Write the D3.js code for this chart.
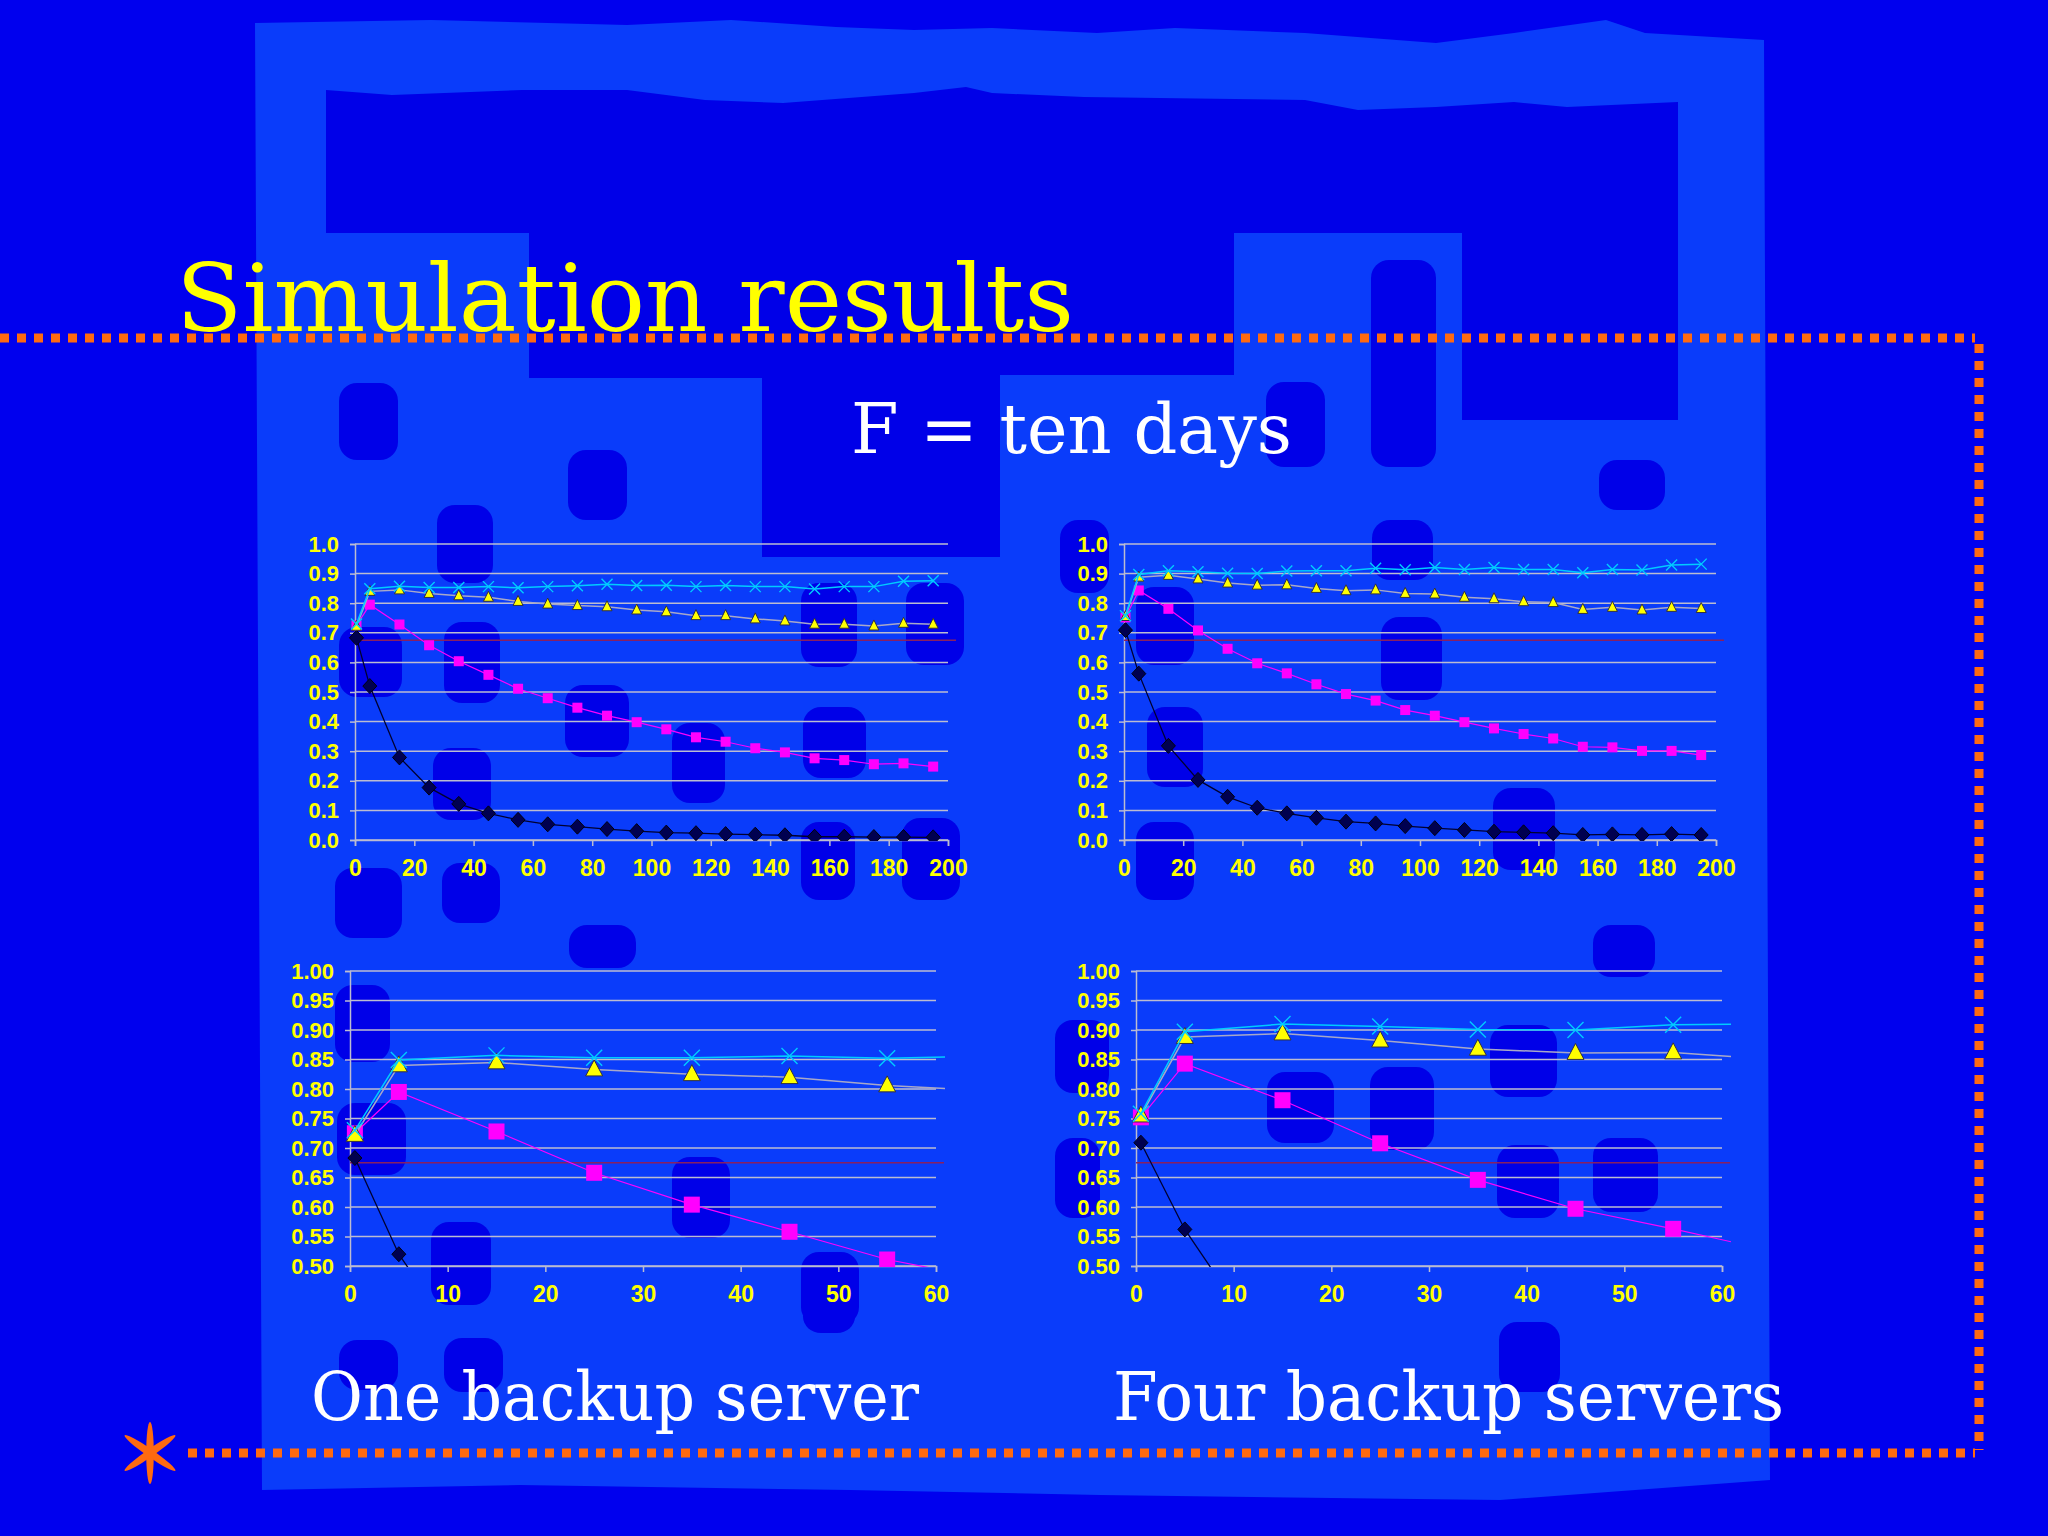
<!DOCTYPE html>
<html><head><meta charset="utf-8">
<script src="https://cdn.jsdelivr.net/npm/d3@7"></script>
<style>html,body{margin:0;padding:0;background:#0000ee;} svg{display:block}</style>
</head><body><svg id="c" width="2048" height="1536"></svg>
<script>
// ---------------- data ----------------
const xValues = [0.5,5,15,25,35,45,55,65,75,85,95,105,115,125,135,145,155,165,175,185,195];
const oneCross    = [0.730,0.849,0.857,0.853,0.853,0.856,0.852,0.856,0.859,0.864,0.860,0.861,0.856,0.860,0.856,0.856,0.848,0.856,0.856,0.874,0.876];
const oneTriangle = [0.722,0.840,0.845,0.833,0.825,0.820,0.806,0.797,0.792,0.788,0.777,0.771,0.758,0.758,0.747,0.740,0.729,0.729,0.723,0.732,0.729];
const oneSquare   = [0.725,0.795,0.728,0.658,0.604,0.558,0.511,0.479,0.447,0.420,0.398,0.374,0.347,0.332,0.310,0.296,0.276,0.270,0.256,0.259,0.248];
const oneDiamond  = [0.683,0.520,0.279,0.177,0.122,0.090,0.068,0.053,0.045,0.037,0.030,0.025,0.023,0.020,0.018,0.016,0.011,0.011,0.010,0.010,0.009];
const fourCross    = [0.758,0.897,0.910,0.906,0.901,0.900,0.909,0.910,0.910,0.918,0.913,0.921,0.914,0.921,0.914,0.914,0.903,0.914,0.912,0.929,0.932];
const fourTriangle = [0.755,0.888,0.894,0.882,0.868,0.861,0.862,0.850,0.842,0.845,0.833,0.831,0.820,0.815,0.805,0.802,0.779,0.786,0.777,0.786,0.782];
const fourSquare   = [0.752,0.843,0.781,0.708,0.646,0.597,0.563,0.526,0.493,0.471,0.439,0.420,0.398,0.377,0.358,0.343,0.315,0.313,0.301,0.301,0.287];
const fourDiamond  = [0.709,0.562,0.318,0.203,0.146,0.109,0.090,0.075,0.062,0.056,0.047,0.040,0.034,0.028,0.026,0.023,0.017,0.019,0.017,0.020,0.017];
const referenceLevel = 0.675;

const topXTicks = [0,20,40,60,80,100,120,140,160,180,200];
const topYTicks = [0.0,0.1,0.2,0.3,0.4,0.5,0.6,0.7,0.8,0.9,1.0];
const bottomXTicks = [0,10,20,30,40,50,60];
const bottomYTicks = [0.50,0.55,0.60,0.65,0.70,0.75,0.80,0.85,0.90,0.95,1.00];

const titleText = "Simulation results";
const subtitleText = "F = ten days";
const captionLeft = "One backup server";
const captionRight = "Four backup servers";

// ---------------- layout ----------------
const svg = d3.select("#c");
const COL = {outer:"#0000ee", light:"#0a3cfa", dark:"#0000e8", orange:"#ff6a10",
  grid:"#bcbcd0", cross:"#00ccff", tri:"#a8a8c8", sq:"#ff00ff", dia:"#000050", ref:"#8a2060"};

// background decoration
svg.append("rect").attr("width",2048).attr("height",1536).attr("fill",COL.outer);
const lightTop = [[255,23],[431,20],[627,25],[731,20],[836,27],[914,30],[992,28],[1097,33],[1175,28],[1305,33],[1436,43],[1514,33],[1606,20],[1645,33],[1764,40]];
const lightPath = d3.path();
lightPath.moveTo(lightTop[0][0], lightTop[0][1]);
lightTop.slice(1).forEach(p=>lightPath.lineTo(p[0],p[1]));
lightPath.lineTo(1770,1480); lightPath.lineTo(1500,1500); lightPath.lineTo(1100,1495);
lightPath.lineTo(850,1490); lightPath.lineTo(520,1485); lightPath.lineTo(262,1490); lightPath.closePath();
svg.append("path").attr("d",lightPath.toString()).attr("fill",COL.light);

const darkTop = [[326,90],[392,95],[522,90],[627,90],[705,100],[783,103],[914,93],[966,87],[992,93],[1084,97],[1305,100],[1358,110],[1436,107],[1514,102],[1567,107],[1678,102]];
const dp = d3.path();
dp.moveTo(darkTop[0][0], darkTop[0][1]);
darkTop.slice(1).forEach(p=>dp.lineTo(p[0],p[1]));
dp.lineTo(1678,420); dp.lineTo(1462,420); dp.lineTo(1462,233); dp.lineTo(1234,233);
dp.lineTo(1234,375); dp.lineTo(1000,375); dp.lineTo(1000,557); dp.lineTo(762,557);
dp.lineTo(762,378); dp.lineTo(529,378); dp.lineTo(529,233); dp.lineTo(326,233); dp.closePath();
svg.append("path").attr("d",dp.toString()).attr("fill",COL.dark);

const blobs = [
 [339,383,59,77],[568,450,59,70],[1266,382,59,85],[1371,260,65,207],[1599,460,66,50],
 [437,505,56,78],[444,622,56,81],[339,627,63,70],[433,748,58,72],[565,685,64,72],
 [672,723,53,80],[801,583,56,84],[803,707,63,71],[906,583,58,82],[801,822,54,78],
 [902,818,58,82],[335,868,67,70],[442,863,58,60],
 [1060,520,49,73],[1372,520,61,60],[1136,587,58,78],[1381,617,61,83],[1147,707,56,80],
 [1136,822,58,78],[1493,788,62,82],
 [335,985,55,77],[337,1103,69,72],[569,925,67,43],[431,1222,60,83],[672,1157,58,81],[801,1252,58,73],
 [1593,925,62,52],[1055,1020,54,73],[1055,1138,45,80],[1267,1072,67,71],[1370,1067,64,83],
 [1490,1025,67,72],[1497,1145,62,73],[1593,1138,65,74],
 [339,1340,59,50],[444,1338,59,54],[803,1300,52,33],[1499,1322,61,70]
];
svg.append("g").selectAll("rect").data(blobs).join("rect")
  .attr("x",d=>d[0]).attr("y",d=>d[1]).attr("width",d=>d[2]).attr("height",d=>d[3])
  .attr("rx",18).attr("fill",COL.dark);

// dotted frame
const frame = svg.append("g").attr("stroke",COL.orange).attr("stroke-width",9).attr("stroke-dasharray","9 8").attr("fill","none");
frame.append("line").attr("x1",0).attr("y1",338).attr("x2",1975).attr("y2",338);
frame.append("line").attr("x1",1979).attr("y1",344).attr("x2",1979).attr("y2",1450);
frame.append("line").attr("x1",188).attr("y1",1453).attr("x2",1975).attr("y2",1453);
// asterisk
const ast = svg.append("g").attr("transform","translate(150,1453)");
[0,55,125].forEach(a=>{
  ast.append("ellipse").attr("rx",3.8).attr("ry",31).attr("fill",COL.orange).attr("transform",`rotate(${a})`);
});

// texts
const serif = "'DejaVu Serif', 'Liberation Serif', serif";
svg.append("text").text(titleText).attr("x",176).attr("y",331)
  .attr("font-family",serif).attr("font-size",94).attr("fill","#ffff00")
  .attr("textLength",898).attr("lengthAdjust","spacingAndGlyphs");
svg.append("text").text(subtitleText).attr("x",851).attr("y",453)
  .attr("font-family",serif).attr("font-size",70).attr("fill","#ffffff")
  .attr("textLength",441).attr("lengthAdjust","spacingAndGlyphs");
svg.append("text").text(captionLeft).attr("x",311).attr("y",1420)
  .attr("font-family",serif).attr("font-size",68).attr("fill","#ffffff")
  .attr("textLength",608).attr("lengthAdjust","spacingAndGlyphs");
svg.append("text").text(captionRight).attr("x",1113).attr("y",1420)
  .attr("font-family",serif).attr("font-size",68).attr("fill","#ffffff")
  .attr("textLength",671).attr("lengthAdjust","spacingAndGlyphs");

// ---------------- charts ----------------
const panels = [
  {id:"tl", diamond:oneDiamond, square:oneSquare, triangle:oneTriangle, cross:oneCross,
   left:355, right:948, top:544, bottom:840, xDom:[0,200], yDom:[0,1], xt:topXTicks, yt:topYTicks, fmt:".1f", big:false},
  {id:"tr", diamond:fourDiamond, square:fourSquare, triangle:fourTriangle, cross:fourCross,
   left:1124, right:1716, top:544, bottom:840, xDom:[0,200], yDom:[0,1], xt:topXTicks, yt:topYTicks, fmt:".1f", big:false},
  {id:"bl", diamond:oneDiamond, square:oneSquare, triangle:oneTriangle, cross:oneCross,
   left:350, right:936, top:971, bottom:1266, xDom:[0,60], yDom:[0.5,1], xt:bottomXTicks, yt:bottomYTicks, fmt:".2f", big:true},
  {id:"br", diamond:fourDiamond, square:fourSquare, triangle:fourTriangle, cross:fourCross,
   left:1136, right:1722, top:971, bottom:1266, xDom:[0,60], yDom:[0.5,1], xt:bottomXTicks, yt:bottomYTicks, fmt:".2f", big:true}
];

const defs = svg.append("defs");
panels.forEach(p=>{
  const x = d3.scaleLinear().domain(p.xDom).range([p.left,p.right]);
  const y = d3.scaleLinear().domain(p.yDom).range([p.bottom,p.top]);
  const g = svg.append("g");
  defs.append("clipPath").attr("id","clip-"+p.id).append("rect")
    .attr("x",p.left-8).attr("y",p.top-8).attr("width",p.right-p.left+17).attr("height",p.bottom-p.top+9);

  // gridlines
  g.append("g").selectAll("line").data(p.yt).join("line")
    .attr("x1",p.left).attr("x2",p.right).attr("y1",d=>y(d)).attr("y2",d=>y(d))
    .attr("stroke",COL.grid).attr("stroke-width",1.5);

  // axes
  const ya = g.append("g").attr("transform",`translate(${p.left},0)`)
    .call(d3.axisLeft(y).tickValues(p.yt).tickFormat(d3.format(p.fmt)).tickSize(5).tickPadding(11));
  const xa = g.append("g").attr("transform",`translate(0,${p.bottom})`)
    .call(d3.axisBottom(x).tickValues(p.xt).tickFormat(d3.format("d")).tickSize(6).tickPadding(14));
  [ya,xa].forEach(a=>{
    a.selectAll("path.domain").attr("stroke",COL.grid).attr("stroke-width",1.5);
    a.selectAll(".tick line").attr("stroke",COL.grid).attr("stroke-width",1.5);
    a.selectAll("text").attr("fill","#ffff00").attr("font-family","'Liberation Sans', Arial, sans-serif")
      .attr("font-weight","bold").attr("font-size",22);
  });
  xa.selectAll("text").attr("font-size",23);

  const pg = g.append("g").attr("clip-path",`url(#clip-${p.id})`);
  // reference level
  pg.append("line").attr("x1",p.left).attr("x2",p.right+8).attr("y1",y(referenceLevel)).attr("y2",y(referenceLevel))
    .attr("stroke",COL.ref).attr("stroke-width",1.5);

  const line = d3.line().x((d,i)=>x(xValues[i])).y(d=>y(d));

  // diamond series
  pg.append("path").attr("d",line(p.diamond)).attr("fill","none").attr("stroke","#000030").attr("stroke-width",1.3);
  const dw = 7, dh = 7.5;
  pg.append("g").selectAll("path").data(p.diamond).join("path")
    .attr("d",`M0,${-dh}L${dw},0L0,${dh}L${-dw},0Z`).attr("transform",(d,i)=>`translate(${x(xValues[i])},${y(d)})`)
    .attr("fill",COL.dia).attr("stroke","#000010").attr("stroke-width",1);

  // square series
  pg.append("path").attr("d",line(p.square)).attr("fill","none").attr("stroke",COL.sq).attr("stroke-width",1.2);
  const sqS = p.big ? 16 : 10;
  pg.append("g").selectAll("rect").data(p.square).join("rect")
    .attr("x",(d,i)=>x(xValues[i])-sqS/2).attr("y",d=>y(d)-sqS/2).attr("width",sqS).attr("height",sqS)
    .attr("fill",COL.sq);

  // triangle series
  pg.append("path").attr("d",line(p.triangle)).attr("fill","none").attr("stroke",COL.tri).attr("stroke-width",1.5);
  const tw = p.big ? 17 : 10, th = p.big ? 16 : 10;
  pg.append("g").selectAll("path").data(p.triangle).join("path")
    .attr("d",`M0,${-th*0.6}L${tw/2},${th*0.4}L${-tw/2},${th*0.4}Z`)
    .attr("transform",(d,i)=>`translate(${x(xValues[i])},${y(d)})`)
    .attr("fill","#ffff00").attr("stroke","#303040").attr("stroke-width",1);

  // cross series
  pg.append("path").attr("d",line(p.cross)).attr("fill","none").attr("stroke",COL.cross).attr("stroke-width",1.5);
  const cs = p.big ? 8 : 5.5;
  pg.append("g").selectAll("path").data(p.cross).join("path")
    .attr("d",`M${-cs},${-cs}L${cs},${cs}M${-cs},${cs}L${cs},${-cs}`)
    .attr("transform",(d,i)=>`translate(${x(xValues[i])},${y(d)})`)
    .attr("stroke",COL.cross).attr("stroke-width",1.4).attr("fill","none");
});
</script></body></html>
